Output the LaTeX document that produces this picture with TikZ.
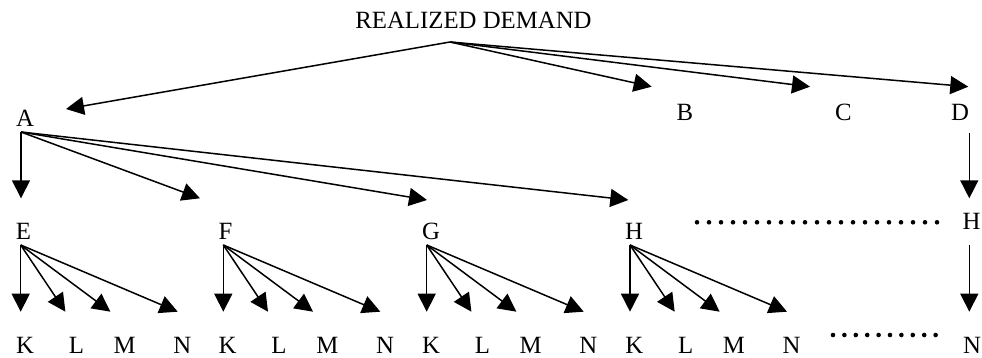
\documentclass[tikz,border=0pt]{standalone}
\usepackage{fontspec}
\setmainfont{Liberation Serif}
\usetikzlibrary{arrows.meta}
\begin{document}
\begin{tikzpicture}[x=0.5pt,y=-0.5pt,
  lbl/.style={inner sep=0pt,anchor=base,font=\fontsize{12.4}{14}\selectfont},
  link/.style={line width=0.75pt,-{Triangle[length=9pt,width=9pt]}},
  dotrow/.style={line width=2.3pt,line cap=round,dash pattern=on 0pt off #1}]
\useasboundingbox (0,0) rectangle (982,358);

% top level
\node[lbl] (title) at (473.5,29) {REALIZED DEMAND};
\coordinate (title-hub) at (450,42);
\node[lbl] (A) at (25,126.7) {A};
\node[lbl] (B) at (685,120.7) {B};
\node[lbl] (C) at (843.5,120.7) {C};
\node[lbl] (D) at (960,120.7) {D};
\coordinate (A-tip) at (66,109);
\coordinate (B-tip) at (651.7,86.7);
\coordinate (C-tip) at (810,86.7);
\coordinate (D-tip) at (968.3,86.7);
\foreach \t in {A,B,C,D}
  \draw[link] (title-hub) -- (\t-tip);

% second level, fanned out from A
\coordinate (A-hub) at (21,132);
\coordinate (AE-tip) at (21,198.3);
\coordinate (AF-tip) at (200,198.3);
\coordinate (AG-tip) at (427,200);
\coordinate (AH-tip) at (628.3,200);
\foreach \t in {AE,AF,AG,AH}
  \draw[link] (A-hub) -- (\t-tip);

% D branch on the right
\coordinate (D-hub) at (969.3,133.3);
\coordinate (DH-tip) at (969.3,198.3);
\draw[link] (D-hub) -- (DH-tip);
\node[lbl] (H2) at (971.5,230) {H};
\coordinate (H2-hub) at (969.3,245);
\coordinate (H2N-tip) at (969.3,311.7);
\draw[link] (H2-hub) -- (H2N-tip);
\node[lbl] (N2) at (972,353.3) {N};

% third level: K, L, M, N under each of E, F, G, H
\foreach \g/\hx/\lx in {E/20.7/23.5,F/223.3/225.4,G/426.7/431,H/630/634}{
  \node[lbl] (\g) at (\lx,240) {\g};
  \coordinate (\g-hub) at (\hx,245);
  \foreach \c/\tx/\kx in {K/0/4.3,L/44.7/55.7,M/89.7/104,N/157/161.7}{
    \node[lbl] (\g-\c) at (\hx+\kx,353.3) {\c};
    \coordinate (\g-\c-tip) at (\hx+\tx,311.7);
    \draw[link] (\g-hub) -- (\g-\c-tip);
  }
}

% ellipsis rows
\coordinate (dots1-a) at (697,222.3);
\coordinate (dots1-b) at (937.3,222.3);
\draw[dotrow=6pt] (dots1-a) -- (dots1-b);
\coordinate (dots2-a) at (833,335);
\coordinate (dots2-b) at (935.9,335);
\draw[dotrow=5.7pt] (dots2-a) -- (dots2-b);
\end{tikzpicture}
\end{document}
